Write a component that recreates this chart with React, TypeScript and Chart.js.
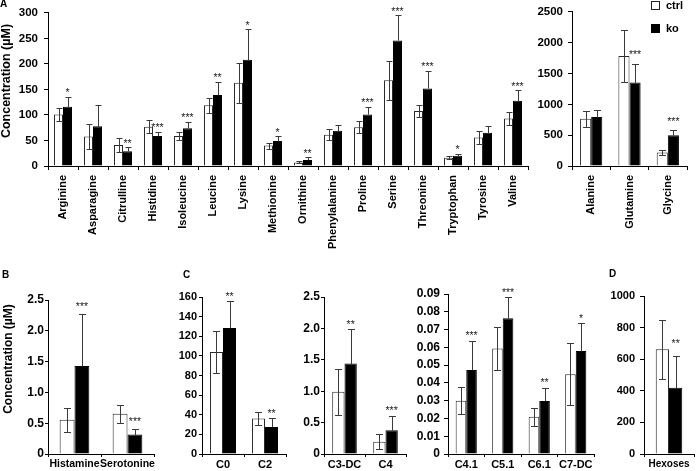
import React, { useEffect, useRef } from 'react';
import { Chart, registerables } from 'chart.js';

Chart.register(...registerables);

const FONT = "'Liberation Sans', Arial, Helvetica, sans-serif";

// ---------- Panel A (amino acids) ----------
const aminoCategories = ['Arginine', 'Asparagine', 'Citrulline', 'Histidine', 'Isoleucine', 'Leucine', 'Lysine', 'Methionine', 'Ornithine', 'Phenylalanine', 'Proline', 'Serine', 'Threonine', 'Tryptophan', 'Tyrosine', 'Valine'];
const aminoCtrl = [101, 58, 41, 77, 59, 119, 163, 40, 7, 61, 76, 168, 108, 16, 56, 93];
const aminoCtrlErr = [12, 25, 13, 13, 8, 15, 39, 6, 2, 11, 12, 38, 12, 3, 13, 13];
const aminoKo = [116, 78, 29, 59, 74, 139, 208, 49, 12, 69, 101, 246, 152, 20, 65, 128];
const aminoKoErr = [20, 41, 8, 8, 13, 26, 60, 9, 5, 11, 15, 50, 35, 4, 13, 20];
const aminoStars = ['*', '', '**', '***', '***', '**', '*', '*', '**', '', '***', '***', '***', '*', '', '***'];
const aminoTicks = [0, 50, 100, 150, 200, 250, 300];

// ---------- Panel A (right) ----------
const bigCategories = ['Alanine', 'Glutamine', 'Glycine'];
const bigCtrl = [767, 1783, 217];
const bigCtrlErr = [127, 420, 42];
const bigKo = [794, 1354, 497];
const bigKoErr = [116, 302, 80];
const bigStars = ['', '***', '***'];
const bigTicks = [0, 500, 1000, 1500, 2000, 2500];

// ---------- Panel B ----------
const amineCategories = ['Histamine', 'Serotonine'];
const amineCtrl = [0.555, 0.652];
const amineCtrlErr = [0.19, 0.15];
const amineKo = [1.43, 0.315];
const amineKoErr = [0.85, 0.095];
const amineStars = ['***', '***'];
const amineTicks = [0, 0.5, 1.0, 1.5, 2.0, 2.5];

// ---------- Panel C ----------
const c1Categories = ['C0', 'C2'];
const c1Ctrl = [104, 36.3];
const c1CtrlErr = [21, 7];
const c1Ko = [128.5, 27.5];
const c1KoErr = [27, 9];
const c1Stars = ['**', '**'];
const c1Ticks = [0, 20, 40, 60, 80, 100, 120, 140, 160];

const c2Categories = ['C3-DC', 'C4'];
const c2Ctrl = [0.99, 0.196];
const c2CtrlErr = [0.37, 0.115];
const c2Ko = [1.44, 0.38];
const c2KoErr = [0.55, 0.23];
const c2Stars = ['**', '***'];
const c2Ticks = [0, 0.5, 1.0, 1.5, 2.0, 2.5];

const c3Categories = ['C4.1', 'C5.1', 'C6.1', 'C7-DC'];
const c3Ctrl = [0.030, 0.0594, 0.021, 0.0448];
const c3CtrlErr = [0.0075, 0.0122, 0.005, 0.0175];
const c3Ko = [0.0473, 0.0763, 0.0298, 0.058];
const c3KoErr = [0.0165, 0.0118, 0.0075, 0.0155];
const c3Stars = ['***', '***', '**', '*'];
const c3Ticks = [0, 0.01, 0.02, 0.03, 0.04, 0.05, 0.06, 0.07, 0.08, 0.09];

// ---------- Panel D ----------
const hexCategories = ['Hexoses'];
const hexCtrl = [663];
const hexCtrlErr = [188];
const hexKo = [420];
const hexKoErr = [201];
const hexStars = ['**'];
const hexTicks = [0, 200, 400, 600, 800, 1000];

const errStarPlugin = {
  id: 'errStars',
  afterDatasetsDraw(chart: any, _args: any, opts: any) {
    const { ctx } = chart;
    const yScale = chart.scales.y;
    const errs = opts.errs as number[][];
    const cap = opts.cap as number;
    ctx.save();
    ctx.lineWidth = 1;
    ctx.strokeStyle = '#3a3a3a';
    chart.data.datasets.forEach((ds: any, di: number) => {
      const meta = chart.getDatasetMeta(di);
      meta.data.forEach((bar: any, j: number) => {
        const v = ds.data[j];
        const e = errs[di][j];
        const x = Math.round(bar.x) + 0.5;
        const yTop = Math.round(yScale.getPixelForValue(v + e)) + 0.5;
        const yBot = di === 0
          ? Math.round(yScale.getPixelForValue(Math.max(0, v - e))) + 0.5
          : Math.round(yScale.getPixelForValue(v)) + 0.5;
        ctx.beginPath();
        ctx.moveTo(x, yBot);
        ctx.lineTo(x, yTop);
        ctx.moveTo(x - cap, yTop);
        ctx.lineTo(x + cap, yTop);
        if (di === 0) {
          ctx.moveTo(x - cap, yBot);
          ctx.lineTo(x + cap, yBot);
        }
        ctx.stroke();
      });
    });
    // significance stars above ko bars
    const koMeta = chart.getDatasetMeta(1);
    const koData = chart.data.datasets[1].data;
    ctx.fillStyle = '#222';
    ctx.font = `normal ${opts.starSize}px ${FONT}`;
    ctx.textAlign = 'center';
    ctx.textBaseline = 'alphabetic';
    (opts.stars as string[]).forEach((s, j) => {
      if (!s) return;
      const bar = koMeta.data[j];
      const top = yScale.getPixelForValue(koData[j] + errs[1][j]);
      const cy = top - opts.starGap;
      ctx.fillText(s, bar.x, cy + opts.starSize * 0.58);
    });
    ctx.restore();
  },
};

type PanelProps = {
  left: number; top: number; width: number; height: number;
  labels: string[]; ctrl: number[]; ctrlErr: number[]; ko: number[]; koErr: number[]; stars: string[];
  ticks: number[]; decimals: number;
  yWidth: number; xHeight: number; padTop: number; padRight: number;
  yFont: number; yTickLen: number; yTickPad: number;
  xFont: number; xTickLen: number; xTickPad: number; rotate: number;
  catPct: number; starGap: number; cap: number; starSize: number;
};

function Panel(p: PanelProps) {
  const ref = useRef<HTMLCanvasElement>(null);
  useEffect(() => {
    if (!ref.current) return;
    const yMax = p.ticks[p.ticks.length - 1];
    const step = p.ticks[1] - p.ticks[0];
    const chart = new Chart(ref.current, {
      type: 'bar',
      data: {
        labels: p.labels,
        datasets: [
          {
            label: 'ctrl', data: p.ctrl, backgroundColor: '#ffffff', borderColor: '#2a2a2a', borderWidth: 1,
            categoryPercentage: p.catPct, barPercentage: 1,
          },
          {
            label: 'ko', data: p.ko, backgroundColor: '#000000', borderColor: '#000000', borderWidth: 1,
            categoryPercentage: p.catPct, barPercentage: 1,
          },
        ],
      },
      options: {
        responsive: false,
        maintainAspectRatio: false,
        animation: false,
        devicePixelRatio: 1,
        layout: { padding: { top: p.padTop, right: p.padRight, left: 0, bottom: 0 } },
        plugins: {
          legend: { display: false },
          tooltip: { enabled: false },
          errStars: { errs: [p.ctrlErr, p.koErr], stars: p.stars, cap: p.cap, starGap: p.starGap, starSize: p.starSize },
        } as any,
        scales: {
          x: {
            offset: true,
            grid: { display: true, drawOnChartArea: false, drawTicks: true, tickLength: p.xTickLen, color: '#000', offset: true },
            border: { display: true, color: '#000', width: 1 },
            ticks: {
              autoSkip: false, maxRotation: p.rotate, minRotation: p.rotate, padding: p.xTickPad,
              color: '#000', font: { family: FONT, size: p.xFont, weight: 'bold' },
            },
            afterFit: (s: any) => { s.height = p.xHeight; },
          },
          y: {
            min: 0, max: yMax,
            grid: { display: true, drawOnChartArea: false, drawTicks: true, tickLength: p.yTickLen, color: '#000' },
            border: { display: true, color: '#000', width: 1 },
            ticks: {
              stepSize: step, padding: p.yTickPad, color: '#000',
              font: { family: FONT, size: p.yFont, weight: 'bold' },
              callback: (v: any) => (Number(v) === 0 ? '0' : Number(v).toFixed(p.decimals)),
            },
            afterFit: (s: any) => { s.width = p.yWidth; },
          },
        },
      } as any,
      plugins: [errStarPlugin as any],
    });
    return () => chart.destroy();
  }, []);
  return (
    <canvas
      ref={ref}
      width={p.width}
      height={p.height}
      style={{ position: 'absolute', left: p.left, top: p.top, width: p.width, height: p.height }}
    />
  );
}

function Letter({ x, y, t }: { x: number; y: number; t: string }) {
  return (
    <div style={{ position: 'absolute', left: x, top: y, font: `bold 10px ${FONT}`, lineHeight: '10px', color: '#000' }}>{t}</div>
  );
}

function YTitle({ cx, cy, size }: { cx: number; cy: number; size: number }) {
  return (
    <div
      style={{
        position: 'absolute', left: cx - 80, top: cy - 8, width: 160, height: 16, lineHeight: '16px',
        textAlign: 'center', transform: 'rotate(-90deg)', font: `bold ${size}px ${FONT}`, color: '#000', whiteSpace: 'nowrap',
      }}
    >
      Concentration (µM)
    </div>
  );
}

export default function App() {
  return (
    <div style={{ position: 'absolute', left: 0, top: 0, width: 696, height: 471, overflow: 'hidden', background: '#fff' }}>
      <Panel left={0} top={0} width={535} height={258}
        labels={aminoCategories} ctrl={aminoCtrl} ctrlErr={aminoCtrlErr} ko={aminoKo} koErr={aminoKoErr} stars={aminoStars}
        ticks={aminoTicks} decimals={0} yWidth={48} xHeight={92} padTop={8} padRight={7}
        yFont={11.5} yTickLen={4} yTickPad={6} xFont={11} xTickLen={4} xTickPad={5} rotate={90}
        catPct={0.6} starGap={6.5} cap={3} starSize={10.5} />
      <Panel left={530} top={0} width={166} height={258}
        labels={bigCategories} ctrl={bigCtrl} ctrlErr={bigCtrlErr} ko={bigKo} koErr={bigKoErr} stars={bigStars}
        ticks={bigTicks} decimals={0} yWidth={42} xHeight={92} padTop={8} padRight={9}
        yFont={11.5} yTickLen={4} yTickPad={5} xFont={11} xTickLen={4} xTickPad={5} rotate={90}
        catPct={0.58} starGap={12} cap={3.5} starSize={10.5} />
      <Panel left={0} top={280} width={160} height={191}
        labels={amineCategories} ctrl={amineCtrl} ctrlErr={amineCtrlErr} ko={amineKo} koErr={amineKoErr} stars={amineStars}
        ticks={amineTicks} decimals={1} yWidth={48} xHeight={17} padTop={20} padRight={6}
        yFont={12} yTickLen={3} yTickPad={1} xFont={10.5} xTickLen={3} xTickPad={1} rotate={0}
        catPct={0.56} starGap={10} cap={3.5} starSize={10.5} />
      <Panel left={160} top={280} width={135} height={191}
        labels={c1Categories} ctrl={c1Ctrl} ctrlErr={c1CtrlErr} ko={c1Ko} koErr={c1KoErr} stars={c1Stars}
        ticks={c1Ticks} decimals={0} yWidth={42} xHeight={17} padTop={17} padRight={9}
        yFont={11} yTickLen={3} yTickPad={2} xFont={11} xTickLen={3} xTickPad={1} rotate={0}
        catPct={0.62} starGap={7.5} cap={3.5} starSize={10.5} />
      <Panel left={290} top={280} width={122} height={191}
        labels={c2Categories} ctrl={c2Ctrl} ctrlErr={c2CtrlErr} ko={c2Ko} koErr={c2KoErr} stars={c2Stars}
        ticks={c2Ticks} decimals={1} yWidth={34} xHeight={17} padTop={17} padRight={6}
        yFont={12} yTickLen={3} yTickPad={1} xFont={11} xTickLen={3} xTickPad={1} rotate={0}
        catPct={0.6} starGap={7.5} cap={3.5} starSize={10.5} />
      <Panel left={405} top={280} width={195} height={191}
        labels={c3Categories} ctrl={c3Ctrl} ctrlErr={c3CtrlErr} ko={c3Ko} koErr={c3KoErr} stars={c3Stars}
        ticks={c3Ticks} decimals={2} yWidth={43} xHeight={17} padTop={14} padRight={6}
        yFont={12} yTickLen={4} yTickPad={4} xFont={11} xTickLen={3} xTickPad={1} rotate={0}
        catPct={0.58} starGap={7.5} cap={3.5} starSize={10.5} />
      <Panel left={600} top={280} width={96} height={191}
        labels={hexCategories} ctrl={hexCtrl} ctrlErr={hexCtrlErr} ko={hexKo} koErr={hexKoErr} stars={hexStars}
        ticks={hexTicks} decimals={0} yWidth={44} xHeight={17} padTop={16} padRight={2}
        yFont={11} yTickLen={4} yTickPad={5} xFont={10} xTickLen={3} xTickPad={1} rotate={0}
        catPct={0.53} starGap={15} cap={3.5} starSize={10.5} />

      <YTitle cx={7} cy={81} size={12.5} />
      <YTitle cx={9} cy={359} size={12} />

      <Letter x={0} y={-1} t="A" />
      <Letter x={2} y={270} t="B" />
      <Letter x={183} y={270} t="C" />
      <Letter x={609} y={269} t="D" />

      <div style={{ position: 'absolute', left: 651, top: 1, width: 9, height: 9, boxSizing: 'border-box', border: '1px solid #222', background: '#fff' }} />
      <div style={{ position: 'absolute', left: 666, top: 0, font: `bold 11px ${FONT}`, lineHeight: '11px', color: '#000' }}>ctrl</div>
      <div style={{ position: 'absolute', left: 651, top: 24, width: 9, height: 9, background: '#000' }} />
      <div style={{ position: 'absolute', left: 666, top: 23, font: `bold 11px ${FONT}`, lineHeight: '11px', color: '#000' }}>ko</div>
    </div>
  );
}
